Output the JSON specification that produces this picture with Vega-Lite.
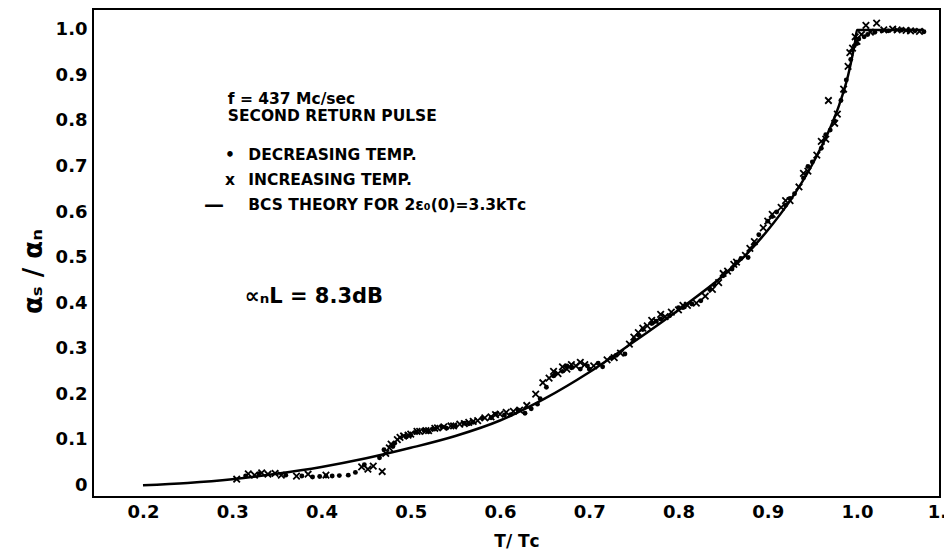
{
  "$schema": "https://vega.github.io/schema/vega-lite/v6.json",
  "width": 847,
  "height": 488,
  "autosize": "none",
  "padding": {"left": 93, "top": 9, "right": 4, "bottom": 55},
  "background": "white",
  "config": {
    "view": {"stroke": "black", "strokeWidth": 2},
    "font": "DejaVu Sans",
    "axis": {
      "labelFont": "DejaVu Sans", "labelFontWeight": "bold", "labelFontSize": 18, "labelColor": "black",
      "titleFont": "DejaVu Sans", "titleFontWeight": "bold", "titleColor": "black",
      "domain": false, "ticks": false, "grid": false
    }
  },
  "datasets": {
    "bcs": [
      {"t": 0.2, "v": 0.0}, {"t": 0.25, "v": 0.005}, {"t": 0.3, "v": 0.013}, {"t": 0.35, "v": 0.025},
      {"t": 0.4, "v": 0.04}, {"t": 0.45, "v": 0.059}, {"t": 0.5, "v": 0.082}, {"t": 0.55, "v": 0.108},
      {"t": 0.6, "v": 0.142}, {"t": 0.65, "v": 0.19}, {"t": 0.7, "v": 0.248}, {"t": 0.75, "v": 0.315},
      {"t": 0.8, "v": 0.385}, {"t": 0.85, "v": 0.46}, {"t": 0.875, "v": 0.505}, {"t": 0.9, "v": 0.56},
      {"t": 0.925, "v": 0.625}, {"t": 0.95, "v": 0.705}, {"t": 0.97, "v": 0.785}, {"t": 0.98, "v": 0.835},
      {"t": 0.99, "v": 0.9}, {"t": 0.995, "v": 0.945}, {"t": 0.998, "v": 0.975}, {"t": 1.0, "v": 1.0},
      {"t": 1.075, "v": 1.0}
    ],
    "xticks": [{"t": 0.2}, {"t": 0.3}, {"t": 0.4}, {"t": 0.5}, {"t": 0.6}, {"t": 0.7}, {"t": 0.8}, {"t": 0.9}, {"t": 1.0}],
    "yticks": [{"v": 0}, {"v": 0.1}, {"v": 0.2}, {"v": 0.3}, {"v": 0.4}, {"v": 0.5}, {"v": 0.6}, {"v": 0.7}, {"v": 0.8}, {"v": 0.9}, {"v": 1.0}],
    "pts": [
      {"t": 0.305, "v": 0.013, "run": "inc"}, {"t": 0.318, "v": 0.025, "run": "inc"}, {"t": 0.325, "v": 0.022, "run": "inc"},
      {"t": 0.333, "v": 0.027, "run": "inc"}, {"t": 0.34, "v": 0.024, "run": "inc"}, {"t": 0.348, "v": 0.026, "run": "inc"},
      {"t": 0.355, "v": 0.022, "run": "inc"}, {"t": 0.372, "v": 0.02, "run": "inc"}, {"t": 0.385, "v": 0.024, "run": "inc"},
      {"t": 0.405, "v": 0.022, "run": "inc"}, {"t": 0.445, "v": 0.04, "run": "inc"}, {"t": 0.452, "v": 0.035, "run": "inc"},
      {"t": 0.458, "v": 0.042, "run": "inc"}, {"t": 0.468, "v": 0.03, "run": "inc"}, {"t": 0.472, "v": 0.07, "run": "inc"},
      {"t": 0.476, "v": 0.082, "run": "inc"}, {"t": 0.485, "v": 0.1, "run": "inc"}, {"t": 0.492, "v": 0.108, "run": "inc"},
      {"t": 0.5, "v": 0.112, "run": "inc"}, {"t": 0.51, "v": 0.118, "run": "inc"}, {"t": 0.52, "v": 0.12, "run": "inc"},
      {"t": 0.53, "v": 0.126, "run": "inc"}, {"t": 0.545, "v": 0.13, "run": "inc"}, {"t": 0.555, "v": 0.134, "run": "inc"},
      {"t": 0.565, "v": 0.138, "run": "inc"}, {"t": 0.575, "v": 0.142, "run": "inc"}, {"t": 0.59, "v": 0.15, "run": "inc"},
      {"t": 0.6, "v": 0.156, "run": "inc"}, {"t": 0.615, "v": 0.162, "run": "inc"}, {"t": 0.63, "v": 0.175, "run": "inc"},
      {"t": 0.64, "v": 0.2, "run": "inc"}, {"t": 0.648, "v": 0.225, "run": "inc"}, {"t": 0.655, "v": 0.235, "run": "inc"},
      {"t": 0.665, "v": 0.245, "run": "inc"}, {"t": 0.675, "v": 0.255, "run": "inc"}, {"t": 0.685, "v": 0.262, "run": "inc"},
      {"t": 0.695, "v": 0.265, "run": "inc"}, {"t": 0.705, "v": 0.262, "run": "inc"}, {"t": 0.72, "v": 0.275, "run": "inc"},
      {"t": 0.735, "v": 0.29, "run": "inc"}, {"t": 0.745, "v": 0.31, "run": "inc"}, {"t": 0.755, "v": 0.335, "run": "inc"},
      {"t": 0.765, "v": 0.35, "run": "inc"}, {"t": 0.775, "v": 0.36, "run": "inc"}, {"t": 0.785, "v": 0.37, "run": "inc"},
      {"t": 0.8, "v": 0.385, "run": "inc"}, {"t": 0.81, "v": 0.395, "run": "inc"}, {"t": 0.82, "v": 0.4, "run": "inc"},
      {"t": 0.83, "v": 0.415, "run": "inc"}, {"t": 0.845, "v": 0.445, "run": "inc"}, {"t": 0.855, "v": 0.47, "run": "inc"},
      {"t": 0.865, "v": 0.49, "run": "inc"}, {"t": 0.875, "v": 0.505, "run": "inc"}, {"t": 0.885, "v": 0.535, "run": "inc"},
      {"t": 0.895, "v": 0.565, "run": "inc"}, {"t": 0.905, "v": 0.595, "run": "inc"}, {"t": 0.915, "v": 0.61, "run": "inc"},
      {"t": 0.925, "v": 0.625, "run": "inc"}, {"t": 0.935, "v": 0.655, "run": "inc"}, {"t": 0.945, "v": 0.69, "run": "inc"},
      {"t": 0.955, "v": 0.725, "run": "inc"}, {"t": 0.965, "v": 0.76, "run": "inc"}, {"t": 0.968, "v": 0.845, "run": "inc"},
      {"t": 0.978, "v": 0.815, "run": "inc"}, {"t": 0.985, "v": 0.87, "run": "inc"}, {"t": 0.99, "v": 0.92, "run": "inc"},
      {"t": 0.995, "v": 0.96, "run": "inc"}, {"t": 1.0, "v": 0.975, "run": "inc"}, {"t": 1.005, "v": 0.99, "run": "inc"},
      {"t": 1.01, "v": 1.01, "run": "inc"}, {"t": 1.015, "v": 0.995, "run": "inc"}, {"t": 1.022, "v": 1.015, "run": "inc"},
      {"t": 1.03, "v": 1.0, "run": "inc"}, {"t": 1.045, "v": 1.0, "run": "inc"}, {"t": 1.06, "v": 0.998, "run": "inc"},
      {"t": 1.07, "v": 0.997, "run": "inc"},
      {"t": 0.478, "v": 0.09, "run": "inc"}, {"t": 0.488, "v": 0.105, "run": "inc"}, {"t": 0.497, "v": 0.11, "run": "inc"},
      {"t": 0.507, "v": 0.118, "run": "inc"}, {"t": 0.517, "v": 0.12, "run": "inc"}, {"t": 0.527, "v": 0.125, "run": "inc"},
      {"t": 0.537, "v": 0.128, "run": "inc"}, {"t": 0.548, "v": 0.13, "run": "inc"}, {"t": 0.56, "v": 0.135, "run": "inc"},
      {"t": 0.57, "v": 0.14, "run": "inc"}, {"t": 0.583, "v": 0.148, "run": "inc"}, {"t": 0.595, "v": 0.155, "run": "inc"},
      {"t": 0.607, "v": 0.16, "run": "inc"}, {"t": 0.622, "v": 0.165, "run": "inc"}, {"t": 0.66, "v": 0.25, "run": "inc"},
      {"t": 0.67, "v": 0.26, "run": "inc"}, {"t": 0.68, "v": 0.265, "run": "inc"}, {"t": 0.69, "v": 0.27, "run": "inc"},
      {"t": 0.728, "v": 0.28, "run": "inc"}, {"t": 0.75, "v": 0.325, "run": "inc"}, {"t": 0.76, "v": 0.345, "run": "inc"},
      {"t": 0.77, "v": 0.362, "run": "inc"}, {"t": 0.78, "v": 0.375, "run": "inc"}, {"t": 0.792, "v": 0.38, "run": "inc"},
      {"t": 0.805, "v": 0.395, "run": "inc"}, {"t": 0.838, "v": 0.43, "run": "inc"}, {"t": 0.85, "v": 0.465, "run": "inc"},
      {"t": 0.862, "v": 0.485, "run": "inc"}, {"t": 0.88, "v": 0.52, "run": "inc"}, {"t": 0.9, "v": 0.58, "run": "inc"},
      {"t": 0.92, "v": 0.625, "run": "inc"}, {"t": 0.94, "v": 0.685, "run": "inc"}, {"t": 0.96, "v": 0.755, "run": "inc"},
      {"t": 0.975, "v": 0.795, "run": "inc"}, {"t": 0.992, "v": 0.95, "run": "inc"}, {"t": 0.998, "v": 0.985, "run": "inc"},
      {"t": 1.04, "v": 1.002, "run": "inc"}, {"t": 1.055, "v": 0.999, "run": "inc"},
      {"t": 0.315, "v": 0.02, "run": "dec"}, {"t": 0.33, "v": 0.025, "run": "dec"}, {"t": 0.36, "v": 0.022, "run": "dec"},
      {"t": 0.378, "v": 0.02, "run": "dec"}, {"t": 0.39, "v": 0.018, "run": "dec"}, {"t": 0.398, "v": 0.019, "run": "dec"},
      {"t": 0.405, "v": 0.02, "run": "dec"}, {"t": 0.412, "v": 0.02, "run": "dec"}, {"t": 0.42, "v": 0.021, "run": "dec"},
      {"t": 0.43, "v": 0.022, "run": "dec"}, {"t": 0.438, "v": 0.028, "run": "dec"}, {"t": 0.448, "v": 0.045, "run": "dec"},
      {"t": 0.465, "v": 0.06, "run": "dec"}, {"t": 0.47, "v": 0.078, "run": "dec"}, {"t": 0.48, "v": 0.085, "run": "dec"},
      {"t": 0.495, "v": 0.106, "run": "dec"}, {"t": 0.505, "v": 0.116, "run": "dec"}, {"t": 0.515, "v": 0.12, "run": "dec"},
      {"t": 0.525, "v": 0.123, "run": "dec"}, {"t": 0.535, "v": 0.128, "run": "dec"}, {"t": 0.55, "v": 0.13, "run": "dec"},
      {"t": 0.56, "v": 0.136, "run": "dec"}, {"t": 0.57, "v": 0.138, "run": "dec"}, {"t": 0.58, "v": 0.147, "run": "dec"},
      {"t": 0.595, "v": 0.156, "run": "dec"}, {"t": 0.605, "v": 0.154, "run": "dec"}, {"t": 0.62, "v": 0.165, "run": "dec"},
      {"t": 0.635, "v": 0.168, "run": "dec"}, {"t": 0.645, "v": 0.19, "run": "dec"}, {"t": 0.652, "v": 0.215, "run": "dec"},
      {"t": 0.66, "v": 0.24, "run": "dec"}, {"t": 0.67, "v": 0.25, "run": "dec"}, {"t": 0.68, "v": 0.258, "run": "dec"},
      {"t": 0.69, "v": 0.255, "run": "dec"}, {"t": 0.7, "v": 0.255, "run": "dec"}, {"t": 0.71, "v": 0.268, "run": "dec"},
      {"t": 0.715, "v": 0.26, "run": "dec"}, {"t": 0.725, "v": 0.28, "run": "dec"}, {"t": 0.74, "v": 0.288, "run": "dec"},
      {"t": 0.75, "v": 0.32, "run": "dec"}, {"t": 0.76, "v": 0.342, "run": "dec"}, {"t": 0.77, "v": 0.355, "run": "dec"},
      {"t": 0.78, "v": 0.365, "run": "dec"}, {"t": 0.79, "v": 0.372, "run": "dec"}, {"t": 0.805, "v": 0.39, "run": "dec"},
      {"t": 0.815, "v": 0.398, "run": "dec"}, {"t": 0.825, "v": 0.405, "run": "dec"}, {"t": 0.835, "v": 0.43, "run": "dec"},
      {"t": 0.85, "v": 0.46, "run": "dec"}, {"t": 0.86, "v": 0.475, "run": "dec"}, {"t": 0.87, "v": 0.498, "run": "dec"},
      {"t": 0.878, "v": 0.5, "run": "dec"}, {"t": 0.89, "v": 0.55, "run": "dec"}, {"t": 0.9, "v": 0.58, "run": "dec"},
      {"t": 0.91, "v": 0.6, "run": "dec"}, {"t": 0.92, "v": 0.615, "run": "dec"}, {"t": 0.93, "v": 0.64, "run": "dec"},
      {"t": 0.94, "v": 0.675, "run": "dec"}, {"t": 0.95, "v": 0.71, "run": "dec"}, {"t": 0.96, "v": 0.74, "run": "dec"},
      {"t": 0.97, "v": 0.78, "run": "dec"}, {"t": 0.975, "v": 0.8, "run": "dec"}, {"t": 0.982, "v": 0.845, "run": "dec"},
      {"t": 0.988, "v": 0.89, "run": "dec"}, {"t": 0.993, "v": 0.935, "run": "dec"}, {"t": 0.997, "v": 0.965, "run": "dec"},
      {"t": 1.002, "v": 0.98, "run": "dec"}, {"t": 1.008, "v": 0.985, "run": "dec"}, {"t": 1.02, "v": 0.995, "run": "dec"},
      {"t": 1.035, "v": 0.998, "run": "dec"}, {"t": 1.05, "v": 1.0, "run": "dec"}, {"t": 1.065, "v": 0.998, "run": "dec"},
      {"t": 1.075, "v": 0.996, "run": "dec"},
      {"t": 0.482, "v": 0.092, "run": "dec"}, {"t": 0.5, "v": 0.11, "run": "dec"}, {"t": 0.52, "v": 0.118, "run": "dec"},
      {"t": 0.54, "v": 0.125, "run": "dec"}, {"t": 0.565, "v": 0.135, "run": "dec"}, {"t": 0.59, "v": 0.148, "run": "dec"},
      {"t": 0.612, "v": 0.155, "run": "dec"}, {"t": 0.628, "v": 0.158, "run": "dec"}, {"t": 0.642, "v": 0.178, "run": "dec"},
      {"t": 0.662, "v": 0.245, "run": "dec"}, {"t": 0.675, "v": 0.262, "run": "dec"}, {"t": 0.698, "v": 0.262, "run": "dec"},
      {"t": 0.73, "v": 0.285, "run": "dec"}, {"t": 0.755, "v": 0.33, "run": "dec"}, {"t": 0.775, "v": 0.36, "run": "dec"},
      {"t": 0.8, "v": 0.39, "run": "dec"}, {"t": 0.84, "v": 0.44, "run": "dec"}, {"t": 0.865, "v": 0.49, "run": "dec"},
      {"t": 0.885, "v": 0.53, "run": "dec"}, {"t": 0.905, "v": 0.59, "run": "dec"}, {"t": 0.925, "v": 0.63, "run": "dec"},
      {"t": 0.945, "v": 0.7, "run": "dec"}, {"t": 0.965, "v": 0.77, "run": "dec"}, {"t": 0.985, "v": 0.865, "run": "dec"},
      {"t": 1.0, "v": 0.97, "run": "dec"}, {"t": 1.012, "v": 0.99, "run": "dec"}, {"t": 1.028, "v": 0.998, "run": "dec"},
      {"t": 1.058, "v": 0.999, "run": "dec"}
    ],
    "notes": [
      {"t": 0.295, "v": 0.849, "text": "f = 437  Mc/sec"},
      {"t": 0.295, "v": 0.811, "text": "SECOND  RETURN  PULSE"},
      {"t": 0.318, "v": 0.725, "text": "DECREASING   TEMP."},
      {"t": 0.318, "v": 0.67, "text": "INCREASING   TEMP."},
      {"t": 0.318, "v": 0.615, "text": "BCS  THEORY  FOR  2ε₀(0)=3.3kTᴄ"}
    ],
    "symbols": [
      {"t": 0.2975, "v": 0.725, "text": "•"},
      {"t": 0.2975, "v": 0.67, "text": "x"}
    ],
    "dash": [
      {"t": 0.2795, "v": 0.615, "text": "—"}
    ],
    "note2": [
      {"t": 0.314, "v": 0.413, "text": "∝ₙL =  8.3dB"}
    ],
    "cutlabel": [
      {"t": 1.097, "v": -0.062, "text": "1.1"}
    ]
  },
  "encoding": {
    "x": {"field": "t", "type": "quantitative", "scale": {"domain": [0.144, 1.093], "nice": false, "zero": false}},
    "y": {"field": "v", "type": "quantitative", "scale": {"domain": [-0.026, 1.046], "nice": false, "zero": false}}
  },
  "layer": [
    {
      "data": {"name": "bcs"},
      "mark": {"type": "line", "color": "black", "strokeWidth": 2.5, "clip": true, "interpolate": "monotone"},
      "encoding": {
        "x": {"field": "t", "type": "quantitative",
          "axis": {"orient": "bottom", "values": [0.2, 0.3, 0.4, 0.5, 0.6, 0.7, 0.8, 0.9, 1.0], "format": ".1f",
            "labelPadding": 6, "labelFlush": false, "title": "T/ Tᴄ", "titleFontSize": 17, "titlePadding": 12}},
        "y": {"field": "v", "type": "quantitative",
          "axis": {"orient": "left", "values": [0, 0.1, 0.2, 0.3, 0.4, 0.5, 0.6, 0.7, 0.8, 0.9, 1.0],
            "labelExpr": "datum.value == 0 ? '0' : format(datum.value, '.1f')",
            "labelPadding": 6, "title": "αₛ / αₙ", "titleFontSize": 26, "titlePadding": 9, "titleY": 262}}
      }
    },
    {
      "data": {"name": "xticks"},
      "mark": {"type": "tick", "orient": "vertical", "color": "black", "size": 10, "thickness": 2, "opacity": 1},
      "encoding": {
        "x": {"field": "t", "type": "quantitative", "axis": null},
        "y": {"datum": -0.015, "type": "quantitative", "axis": null}
      }
    },
    {
      "data": {"name": "xticks"},
      "mark": {"type": "tick", "orient": "vertical", "color": "black", "size": 10, "thickness": 2, "opacity": 1},
      "encoding": {
        "x": {"field": "t", "type": "quantitative", "axis": null},
        "y": {"datum": 1.035, "type": "quantitative", "axis": null}
      }
    },
    {
      "data": {"name": "yticks"},
      "mark": {"type": "tick", "orient": "horizontal", "color": "black", "size": 10, "thickness": 2, "opacity": 1},
      "encoding": {
        "y": {"field": "v", "type": "quantitative", "axis": null},
        "x": {"datum": 0.1496, "type": "quantitative", "axis": null}
      }
    },
    {
      "data": {"name": "yticks"},
      "mark": {"type": "tick", "orient": "horizontal", "color": "black", "size": 10, "thickness": 2, "opacity": 1},
      "encoding": {
        "y": {"field": "v", "type": "quantitative", "axis": null},
        "x": {"datum": 1.0874, "type": "quantitative", "axis": null}
      }
    },
    {
      "data": {"name": "pts"},
      "transform": [{"filter": "datum.run == 'dec'"}],
      "mark": {"type": "point", "shape": "circle", "filled": true, "color": "black", "size": 24, "opacity": 1},
      "encoding": {
        "x": {"field": "t", "type": "quantitative", "axis": null},
        "y": {"field": "v", "type": "quantitative", "axis": null}
      }
    },
    {
      "data": {"name": "pts"},
      "transform": [{"filter": "datum.run == 'inc'"}],
      "mark": {"type": "point", "shape": "M-1,-1L1,1M-1,1L1,-1", "filled": false, "color": "black", "strokeWidth": 1.8, "size": 42, "opacity": 1},
      "encoding": {
        "x": {"field": "t", "type": "quantitative", "axis": null},
        "y": {"field": "v", "type": "quantitative", "axis": null}
      }
    },
    {
      "data": {"name": "notes"},
      "mark": {"type": "text", "align": "left", "baseline": "middle", "font": "DejaVu Sans", "fontWeight": "bold", "fontSize": 15.5, "color": "black"},
      "encoding": {
        "x": {"field": "t", "type": "quantitative", "axis": null},
        "y": {"field": "v", "type": "quantitative", "axis": null},
        "text": {"field": "text"}
      }
    },
    {
      "data": {"name": "symbols"},
      "mark": {"type": "text", "align": "center", "baseline": "middle", "font": "DejaVu Sans", "fontWeight": "bold", "fontSize": 15.5, "color": "black"},
      "encoding": {
        "x": {"field": "t", "type": "quantitative", "axis": null},
        "y": {"field": "v", "type": "quantitative", "axis": null},
        "text": {"field": "text"}
      }
    },
    {
      "data": {"name": "dash"},
      "mark": {"type": "text", "align": "center", "baseline": "middle", "font": "DejaVu Sans", "fontWeight": "bold", "fontSize": 20, "color": "black"},
      "encoding": {
        "x": {"field": "t", "type": "quantitative", "axis": null},
        "y": {"field": "v", "type": "quantitative", "axis": null},
        "text": {"field": "text"}
      }
    },
    {
      "data": {"name": "note2"},
      "mark": {"type": "text", "align": "left", "baseline": "middle", "font": "DejaVu Sans", "fontWeight": "bold", "fontSize": 21, "color": "black"},
      "encoding": {
        "x": {"field": "t", "type": "quantitative", "axis": null},
        "y": {"field": "v", "type": "quantitative", "axis": null},
        "text": {"field": "text"}
      }
    },
    {
      "data": {"name": "cutlabel"},
      "mark": {"type": "text", "align": "center", "baseline": "middle", "font": "DejaVu Sans", "fontWeight": "bold", "fontSize": 18, "color": "black"},
      "encoding": {
        "x": {"field": "t", "type": "quantitative", "axis": null},
        "y": {"field": "v", "type": "quantitative", "axis": null},
        "text": {"field": "text"}
      }
    }
  ],
  "resolve": {"axis": {"x": "independent", "y": "independent"}}
}
